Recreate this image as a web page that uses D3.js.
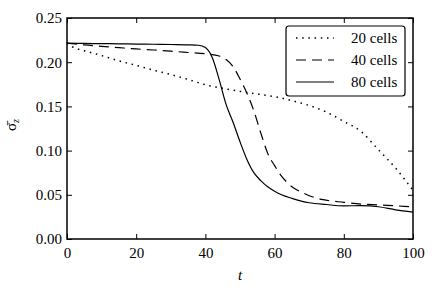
<!DOCTYPE html>
<html>
<head>
<meta charset="utf-8">
<script src="https://cdn.jsdelivr.net/npm/d3@7"></script>
<style>
  body { margin: 0; background: #fff; }
  svg text { font-family: "Liberation Serif", "DejaVu Serif", serif; fill: #000; }
</style>
</head>
<body>
<div id="chart"></div>
<script>
// sigma_z vs t for three grid resolutions
var t20 = [0, 1.5, 5, 10, 15, 20, 25, 30, 35, 40, 45, 50, 55, 60, 65, 70, 75, 80, 85, 90, 95, 100];
var cells20 = [0.2215, 0.2175, 0.213, 0.2075, 0.2015, 0.1965, 0.191, 0.186, 0.1805, 0.1745, 0.1705,
	0.167, 0.164, 0.161, 0.1565, 0.151, 0.1435, 0.133, 0.1215, 0.101, 0.080, 0.055];

var t40 = [0, 5, 10, 15, 20, 25, 30, 35, 40, 44, 46, 48, 50, 52, 54, 56, 58, 60, 62, 64, 66, 68, 70, 74, 80, 85, 90, 95, 100];
var cells40 = [0.2215, 0.2195, 0.218, 0.2165, 0.215, 0.2138, 0.2125, 0.211, 0.2095, 0.207, 0.203, 0.195,
	0.181, 0.165, 0.145, 0.120, 0.097, 0.083, 0.071, 0.0625, 0.0565, 0.0525, 0.049, 0.0445, 0.0415,
	0.0395, 0.0385, 0.0375, 0.0365];

var t80 = [0, 5, 10, 15, 20, 25, 30, 35, 38, 40, 42, 44, 46, 48, 50, 52, 54, 56, 58, 60, 62, 65, 70, 75, 80, 85, 90, 95, 100];
var cells80 = [0.2215, 0.2212, 0.221, 0.2208, 0.2205, 0.2203, 0.22, 0.2197, 0.2192, 0.2165, 0.205, 0.180,
	0.152, 0.132, 0.110, 0.090, 0.075, 0.066, 0.059, 0.054, 0.050, 0.046, 0.041, 0.039, 0.0375,
	0.0377, 0.0365, 0.033, 0.0305];

var xTicks = [0, 20, 40, 60, 80, 100];
var yTicks = [0.00, 0.05, 0.10, 0.15, 0.20, 0.25];

var series = [
	{name: "20 cells", t: t20, v: cells20, dash: "1.5,4.7", sw: 1.5},
	{name: "40 cells", t: t40, v: cells40, dash: "10,6", sw: 1.2},
	{name: "80 cells", t: t80, v: cells80, dash: null, sw: 1.2}
];

var w = 436, h = 292;
var padL = 67, padR = 413, padT = 18, padB = 239;	// plot box edges
var tickLen = 5;

var svg = d3.select("#chart").append("svg")
	.attr("width", w)
	.attr("height", h);

var x = d3.scaleLinear().domain([0, 100]).range([padL, padR]);
var y = d3.scaleLinear().domain([0, 0.25]).range([padB, padT]);

// curves
var line = d3.line()
	.x(function(d) { return x(d[0]); })
	.y(function(d) { return y(d[1]); })
	.curve(d3.curveMonotoneX);

series.forEach(function(s) {
	var pts = s.t.map(function(tt, i) { return [tt, s.v[i]]; });
	svg.append("path")
		.attr("d", line(pts))
		.attr("fill", "none")
		.attr("stroke", "#000")
		.attr("stroke-width", s.sw)
		.attr("stroke-dasharray", s.dash);
});

// axes with inward ticks on all four sides
var fmtY = d3.format(".2f");
var axBottom = svg.append("g").attr("transform", "translate(0," + padB + ")")
	.call(d3.axisBottom(x).tickValues(xTicks).tickSizeInner(-tickLen).tickSizeOuter(0).tickPadding(8));
var axTop = svg.append("g").attr("transform", "translate(0," + padT + ")")
	.call(d3.axisTop(x).tickValues(xTicks).tickSizeInner(-tickLen).tickSizeOuter(0).tickFormat(""));
var axLeft = svg.append("g").attr("transform", "translate(" + padL + ",0)")
	.call(d3.axisLeft(y).tickValues(yTicks).tickSizeInner(-tickLen).tickSizeOuter(0).tickPadding(5).tickFormat(fmtY));
var axRight = svg.append("g").attr("transform", "translate(" + padR + ",0)")
	.call(d3.axisRight(y).tickValues(yTicks).tickSizeInner(-tickLen).tickSizeOuter(0).tickFormat(""));

[axBottom, axTop, axLeft, axRight].forEach(function(a) {
	a.select(".domain").remove();
	a.selectAll("line").attr("stroke", "#000").attr("stroke-width", 1);
	a.selectAll("text").style("font-size", "15px").attr("fill", "#000");
});
axBottom.selectAll("text").attr("dy", "0.71em");

svg.append("rect")
	.attr("x", padL).attr("y", padT)
	.attr("width", padR - padL).attr("height", padB - padT)
	.attr("fill", "none")
	.attr("stroke", "#000")
	.attr("stroke-width", 1.5);

// axis labels
svg.append("text")
	.attr("x", (padL + padR) / 2)
	.attr("y", 280)
	.attr("text-anchor", "middle")
	.style("font-size", "15px")
	.style("font-style", "italic")
	.text("t");

var yl = svg.append("text")
	.attr("transform", "translate(16,125) rotate(-90)")
	.attr("text-anchor", "middle")
	.style("font-size", "15px");
yl.append("tspan").text("σ\u0304");
yl.append("tspan").attr("dy", 3).style("font-size", "10px").style("font-style", "italic").text("z");

// legend
var leg = svg.append("g");
leg.append("rect")
	.attr("x", 286).attr("y", 26)
	.attr("width", 119).attr("height", 70)
	.attr("rx", 3)
	.attr("fill", "#fff")
	.attr("stroke", "#000")
	.attr("stroke-width", 1.2);

series.forEach(function(s, i) {
	var ly = 38 + i * 22;
	leg.append("line")
		.attr("x1", 296).attr("x2", 334)
		.attr("y1", ly).attr("y2", ly)
		.attr("stroke", "#000")
		.attr("stroke-width", s.sw)
		.attr("stroke-dasharray", s.dash);
	leg.append("text")
		.attr("x", 351).attr("y", ly + 5)
		.style("font-size", "15px")
		.text(s.name);
});
</script>
</body>
</html>
